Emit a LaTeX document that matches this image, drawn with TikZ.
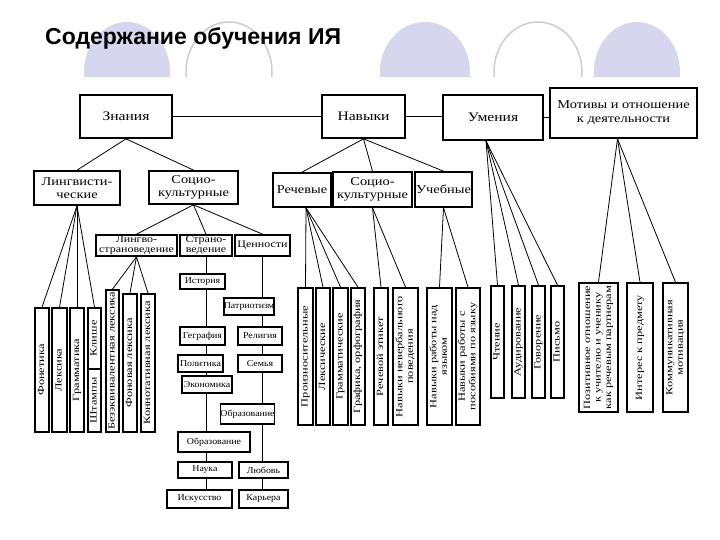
\documentclass[tikz,border=0pt]{standalone}
\usepackage{fontspec}
\setmainfont{Liberation Serif}
\newfontfamily\titlef{Liberation Sans}
\newfontfamily\fa[FakeStretch=1.2]{Liberation Serif}
\newfontfamily\fv[FakeStretch=1.3]{Liberation Serif}
\newfontfamily\fsm[FakeStretch=1.1]{Liberation Serif}
\definecolor{lav}{RGB}{214,214,238}
\definecolor{arcgray}{RGB}{205,205,212}
\newcommand\vt[1]{\rotatebox{90}{\begin{tabular}{@{}c@{}}#1\end{tabular}}}
\newcommand\B[7]{\node[#1, minimum width={(#4-#2)*1pt}, minimum height={(#5-#3)*1pt}] (#6) at ({(#2+#4)/2},{(#3+#5)/2}) {#7};}
\tikzset{
  box/.style={draw, line width=1.7pt, fill=white, inner sep=0pt, align=center},
  r1/.style={box, font=\fa\fontsize{13}{15}\selectfont},
  r1m/.style={box, font=\fa\fontsize{12}{14}\selectfont},
  r2/.style={box, font=\fa\fontsize{12}{13}\selectfont},
  r3/.style={box, font=\fa\fontsize{10}{10}\selectfont},
  sm/.style={box, font=\fsm\fontsize{9}{10}\selectfont},
  vb/.style={box, font=\fv\fontsize{9.5}{10.5}\selectfont},
  conn/.style={line width=0.8pt}
}
\begin{document}
\begin{tikzpicture}[x=1pt,y=-1pt]
\useasboundingbox (0,0) rectangle (720,540);
\fill[white] (0,0) rectangle (720,540);
% decorative arches
\begin{scope}
\clip (0,0) rectangle (720,77);
\fill[lav] (127,72) ellipse [x radius=43pt, y radius=50pt];
\fill[lav] (425,72) ellipse [x radius=45pt, y radius=50pt];
\fill[lav] (637,72) ellipse [x radius=43pt, y radius=50pt];
\draw[arcgray, line width=1.5pt] (229,72) ellipse [x radius=43pt, y radius=50pt];
\draw[arcgray, line width=1.5pt] (538,72) ellipse [x radius=44pt, y radius=50pt];
\end{scope}
\node[anchor=base west, inner sep=0pt, font=\titlef\bfseries\fontsize{23}{26}\selectfont] (title) at (45,45) {Содержание обучения ИЯ};

\B{r1}{80}{95}{172}{138}{znanija}{Знания}
\B{r1}{322}{95}{405}{138}{navyki}{Навыки}
\B{r1}{443}{95}{543}{140}{umenija}{Умения}
\B{r1m}{550}{88}{697}{138}{motivy}{Мотивы и отношение\\к деятельности}

\B{r2}{34}{171}{120}{205}{ling}{Лингвисти-\\ческие}
\B{r2}{149}{171}{238}{204}{socio1}{Социо-\\культурные}
\B{r2}{273}{173}{331}{207}{rech}{Речевые}
\B{r2}{333}{172}{412}{207}{socio2}{Социо-\\культурные}
\B{r2}{415}{172}{472}{207}{ucheb}{Учебные}

\B{r3}{96}{235}{177}{256}{lingstr}{Лингво-\\страноведение}
\B{r3}{180}{235}{232}{256}{strano}{Страно-\\ведение}
\B{r3}{235}{235}{290}{256}{cennosti}{Ценности}

\draw[conn] (znanija.east) -- (znanija.east -| navyki.west);
\draw[conn] (navyki.east) -- (navyki.east -| umenija.west);
\draw[conn] (umenija.east) -- (umenija.east -| motivy.west);
\draw[conn] (znanija.south) -- (ling.north);
\draw[conn] (znanija.south) -- (socio1.north);
\draw[conn] (navyki.south) -- (rech.north);
\draw[conn] (navyki.south) -- (socio2.north);
\draw[conn] (navyki.south) -- (ucheb.north);
\coordinate (uapex) at ([xshift=-7pt]umenija.south);
\coordinate (mapex) at ([xshift=-6pt]motivy.south);
\coordinate (rapex) at ([xshift=4pt]rech.south);
\coordinate (bottomrow) at (0,490);

\draw[conn] (strano.south) -- (strano.south |- bottomrow);
\draw[conn] (cennosti.south) -- (cennosti.south |- bottomrow);

\draw[conn] (socio1.south) -- (lingstr.north);
\draw[conn] (socio1.south) -- (strano.north);
\draw[conn] (socio1.south) -- (cennosti.north);

\B{sm}{180}{274}{225}{289}{istoria}{История}
\B{sm}{226}{298}{272}{315}{patriot}{Патриотизм}
\B{sm}{180}{327}{225}{345}{geogr}{Геграфия}
\B{sm}{238}{327}{282}{345}{relig}{Религия}
\B{sm}{178}{355}{223}{372}{polit}{Политика}
\B{sm}{238}{355}{282}{372}{semja}{Семья}
\B{sm}{182}{376}{232}{393}{ekon}{Экономика}
\B{sm}{223}{404}{272}{424}{obraz1}{Образование}
\B{sm}{178}{432}{250}{452}{obraz2}{Образование}
\B{sm}{178}{462}{232}{478}{nauka}{Наука}
\B{sm}{239}{462}{288}{478}{ljubov}{Любовь}
\B{sm}{167}{490}{232}{508}{iskus}{Искусство}
\B{sm}{239}{490}{288}{508}{karjera}{Карьера}

\B{vb}{35}{308}{49}{432}{fonet}{\vt{Фонетика}}
\B{vb}{52}{308}{67}{432}{leks}{\vt{Лексика}}
\B{vb}{70}{308}{84}{432}{gramm}{\vt{Грамматика}}
\B{vb}{88}{308}{101}{369}{klishe}{\vt{Клише}}
\B{vb}{88}{369}{101}{432}{shtamp}{\vt{Штампы}}
\B{vb}{106}{290}{119}{432}{bezekv}{\vt{Безэквивалентная лексика}}
\B{vb}{123}{294}{137}{432}{fon}{\vt{Фоновая лексика}}
\B{vb}{141}{294}{155}{432}{konnot}{\vt{Коннотативная лексика}}

\B{vb}{298}{288}{313}{425}{proizn}{\vt{Произносительные}}
\B{vb}{316}{288}{330}{425}{leksich}{\vt{Лексические}}
\B{vb}{333}{288}{348}{425}{grammat}{\vt{Грамматические}}
\B{vb}{351}{288}{365}{425}{grafika}{\vt{Графика, орфография}}
\B{vb}{374}{288}{388}{425}{etiket}{\vt{Речевой этикет}}
\B{vb}{393}{288}{418}{425}{neverb}{\vt{Навыки невербального\\поведения}}
\B{vb}{427}{288}{452}{425}{nadjaz}{\vt{Навыки работы над\\языком}}
\B{vb}{456}{288}{480}{425}{posob}{\vt{Навыки работы с\\пособиями по языку}}

\B{vb}{491}{286}{504}{398}{chtenie}{\vt{Чтение}}
\B{vb}{512}{286}{525}{398}{audir}{\vt{Аудирование}}
\B{vb}{532}{286}{545}{398}{govor}{\vt{Говорение}}
\B{vb}{551}{286}{564}{398}{pismo}{\vt{Письмо}}
\B{vb}{579}{283}{618}{412}{pozit}{\vt{Позитивное отношение\\к учителю и ученику\\как речевым партнерам}}
\B{vb}{627}{283}{653}{412}{interes}{\vt{Интерес к предмету}}
\B{vb}{663}{283}{688}{412}{kommun}{\vt{Коммуникативная\\мотивация}}

\draw[conn] (ling.south) -- (fonet.north);
\draw[conn] (ling.south) -- (leks.north);
\draw[conn] (ling.south) -- (gramm.north);
\draw[conn] (ling.south) -- (klishe.north);
\draw[conn] (lingstr.south) -- (bezekv.north);
\draw[conn] (lingstr.south) -- (fon.north);
\draw[conn] (lingstr.south) -- (konnot.north);
\draw[conn] (rapex) -- (proizn.north);
\draw[conn] (rapex) -- (leksich.north);
\draw[conn] (rapex) -- (grammat.north);
\draw[conn] (rapex) -- (grafika.north);
\draw[conn] (socio2.south) -- (etiket.north);
\draw[conn] (socio2.south) -- (neverb.north);
\draw[conn] (ucheb.south) -- (nadjaz.north);
\draw[conn] (ucheb.south) -- (posob.north);
\draw[conn] (uapex) -- (chtenie.north);
\draw[conn] (uapex) -- (audir.north);
\draw[conn] (uapex) -- (govor.north);
\draw[conn] (uapex) -- (pismo.north);
\draw[conn] (mapex) -- (pozit.north);
\draw[conn] (mapex) -- (interes.north);
\draw[conn] (mapex) -- (kommun.north);
\end{tikzpicture}
\end{document}
